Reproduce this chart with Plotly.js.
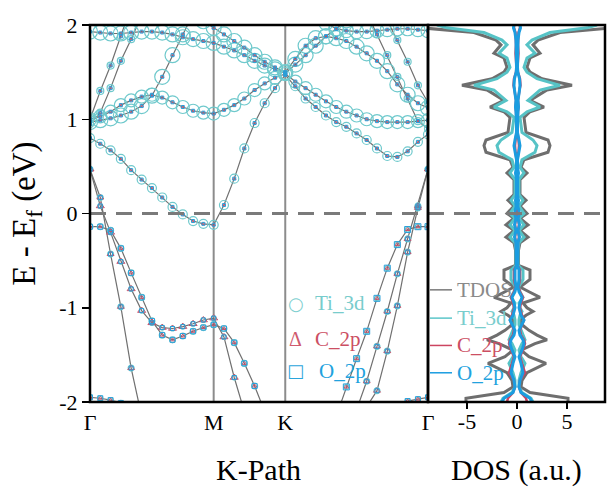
<!DOCTYPE html>
<html><head><meta charset="utf-8">
<script src="https://cdn.plot.ly/plotly-3.0.1.min.js"></script>
<style>html,body{margin:0;padding:0;background:#fff}#chart{width:608px;height:492px}</style>
</head><body><div id="chart"></div>
<script>
const N = null;
// k-path coordinates (Γ-M-K-Γ, hexagonal)
const kPath = [0.000,0.048,0.096,0.144,0.192,0.241,0.289,0.337,0.385,0.433,0.481,0.529,0.577,
               0.625,0.673,0.720,0.768,0.815,0.863,0.911,
               0.958,1.006,1.053,1.101,1.149,1.196,1.244,1.291,1.339,1.387,1.434,1.482,1.530,1.577];
const kTickVals = [0, 0.577, 0.911, 1.577];
const kTickText = ['Γ', 'M', 'K', 'Γ'];
const eTickVals = [-2, -1, 0, 1, 2];
const eTickText = ['-2', '-1', '0', '1', '2'];
const dosTickVals = [-5, 0, 5];
const dosTickText = ['-5', '0', '5'];

// band energies (eV) along kPath
const bandC1 = [0.80,0.74,0.67,0.58,0.46,0.36,0.27,0.17,0.07,-0.01,-0.08,-0.11,-0.12,
                0.09,0.37,0.69,0.96,1.17,1.33,1.47,
                1.35,1.22,1.13,1.04,0.97,0.92,0.85,0.78,0.69,0.61,0.60,0.66,0.76,0.84];
const bandC2 = [1.00,1.03,1.08,1.15,1.20,1.24,1.26,1.23,1.18,1.13,1.09,1.07,1.06,
                1.10,1.15,1.22,1.31,1.38,1.44,1.48,
                1.40,1.33,1.26,1.19,1.13,1.08,1.04,1.00,0.98,0.97,0.97,0.97,0.98,0.99];
const bandC3 = [0.97,0.99,1.01,1.04,1.08,1.14,1.25,1.45,1.68,1.90,2.12,N,N,
                N,N,N,N,N,N,N,
                N,N,N,N,N,N,N,N,N,N,N,N,N,N];
const bandT1 = [1.93,1.92,1.91,1.91,1.92,1.93,1.93,1.92,1.90,1.87,1.85,1.83,1.81,
                1.77,1.73,1.68,1.62,1.57,1.53,1.49,
                1.58,1.68,1.78,1.88,1.96,2.05,N,N,N,N,N,N,N,N];
const bandT2 = [N,N,N,N,N,N,N,N,N,N,2.12,2.04,1.97,
                1.90,1.83,1.76,1.68,1.61,1.55,1.50,
                1.64,1.78,1.86,1.88,1.86,1.83,1.77,1.70,1.62,1.51,1.37,1.26,1.17,1.12];
const bandT3 = [N,N,N,N,N,N,N,N,N,N,N,N,N,
                N,N,N,N,N,N,N,
                N,N,N,2.02,1.96,1.94,1.93,1.93,1.94,1.95,1.96,1.96,1.95,1.94];
const bandS1 = [1.00,1.30,1.57,1.88,2.20,N,N,N,N,N,N,N,N,
                N,N,N,N,N,N,N,
                N,N,N,N,N,N,N,N,N,N,N,N,N,N];
const bandS2 = [0.95,1.07,1.33,1.62,1.85,2.10,N,N,N,N,N,N,N,
                N,N,N,N,N,N,N,
                N,N,N,N,N,N,N,N,N,N,N,N,N,N];
const bandS3 = [N,N,N,N,N,N,N,N,N,N,N,N,N,
                N,N,N,N,N,N,N,
                N,N,N,N,N,N,N,2.13,1.90,1.68,1.45,1.22,0.98,0.90];
const bandS4 = [N,N,N,N,N,N,N,N,N,N,N,N,N,
                N,N,N,N,N,N,N,
                N,N,N,N,N,N,N,N,N,2.05,1.84,1.61,1.36,1.18];
const bandV1 = [0.47,0.17,-0.43,-0.99,-1.64,-2.15,N,N,N,N,N,N,N,
                N,N,N,N,N,N,N,
                N,N,N,N,N,N,N,N,N,N,N,N,N,N];
const bandV2 = [0.47,0.08,-0.20,-0.51,-0.80,-1.03,-1.16,-1.21,-1.22,-1.20,-1.17,-1.13,-1.11,
                -1.31,-1.74,-2.10,N,N,N,N,
                N,N,N,N,N,N,N,N,N,N,N,N,N,N];
const bandV3 = [-0.14,-0.14,-0.18,-0.37,-0.63,-0.89,-1.14,-1.29,-1.34,-1.30,-1.25,-1.21,-1.18,
                -1.22,-1.37,-1.59,-1.83,-2.10,N,N,
                N,N,N,N,N,N,N,N,N,N,N,N,N,N];
const bandV4 = [-1.95,-1.96,-1.98,-2.01,-2.05,N,N,N,N,N,N,N,N,
                N,N,N,N,N,N,N,
                N,N,N,N,N,N,N,N,N,N,-2.03,-1.99,-1.97,-1.95];
const bandR1 = [N,N,N,N,N,N,N,N,N,N,N,N,N,
                N,N,N,N,N,N,N,
                N,N,N,N,-2.15,-1.84,-1.54,-1.25,-0.90,-0.58,-0.33,-0.17,-0.14,-0.14];
const bandR2 = [N,N,N,N,N,N,N,N,N,N,N,N,N,
                N,N,N,N,N,N,N,
                N,N,N,N,N,N,-2.08,-1.78,-1.41,-1.04,-0.64,-0.27,0.08,0.47];
const bandR3 = [N,N,N,N,N,N,N,N,N,N,N,N,N,
                N,N,N,N,N,N,N,
                N,N,N,N,N,N,N,-2.05,-1.88,-1.46,-0.98,-0.41,0.06,0.47];

// density of states (a.u.), mirrored for the two spin channels
const dosE = [-2.0,-1.96,-1.9,-1.84,-1.77,-1.69,-1.59,-1.52,-1.45,-1.38,
              -1.34,-1.29,-1.24,-1.18,-1.13,-1.08,-1.04,-1.0,-0.95,-0.89,
              -0.83,-0.78,-0.7,-0.6,-0.55,-0.45,-0.39,-0.31,-0.25,-0.18,
              -0.12,-0.05,0.0,0.08,0.14,0.2,0.3,0.36,0.43,0.49,
              0.57,0.65,0.72,0.78,0.86,0.95,1.02,1.08,1.13,1.2,
              1.31,1.36,1.43,1.5,1.55,1.65,1.7,1.79,1.84,1.92,
              1.97,2.0];
const dosTotal = [5.1,5.1,1.3,0.4,0.5,1.0,2.9,1.2,0.4,1.8,
                  3.0,2.0,1.2,0.5,0.3,0.9,1.6,1.0,0.6,2.3,
                  1.2,0.3,1.3,1.3,0.15,0.15,0.15,0.3,1.1,0.3,
                  1.1,0.3,1.0,0.3,0.9,0.3,0.3,0.3,1.0,0.4,
                  0.7,3.1,3.3,3.1,0.9,0.8,0.7,1.3,2.7,1.3,
                  3.0,5.5,2.5,1.3,1.0,1.3,2.3,1.6,2.1,4.3,
                  9.5,9.5];
const dosTi3d = [1.6,1.4,0.5,0.2,0.2,0.4,0.8,0.4,0.2,0.5,
                 0.8,0.6,0.4,0.2,0.2,0.3,0.5,0.3,0.2,0.6,
                 0.3,0.15,0.6,0.6,0.1,0.1,0.1,0.2,0.7,0.2,
                 0.7,0.2,0.7,0.2,0.6,0.2,0.2,0.2,0.7,0.3,
                 0.5,1.8,2.0,1.6,0.5,0.4,0.3,1.0,2.3,1.1,
                 2.3,4.3,2.0,1.0,0.7,1.0,1.8,1.0,1.5,3.3,
                 7.0,8.0];
const dosC2p = [1.0,0.9,0.4,0.2,0.3,0.8,0.5,0.3,0.6,0.8,
                0.7,0.4,0.3,0.5,0.7,0.5,0.4,0.3,0.4,0.6,
                0.3,0.15,0.3,0.3,0.05,0.05,0.05,0.1,0.2,0.1,
                0.2,0.1,0.15,0.05,0.1,0.05,0.05,0.05,0.1,0.05,
                0.05,0.15,0.2,0.15,0.05,0.05,0.05,0.1,0.15,0.1,
                0.25,0.35,0.3,0.1,0.05,0.1,0.15,0.1,0.1,0.15,
                0.3,0.3];
const dosO2p = [1.5,1.3,0.4,0.2,0.3,0.6,0.4,0.2,0.5,0.7,
                0.6,0.3,0.2,0.5,0.7,0.4,0.3,0.2,0.3,0.5,
                0.2,0.1,0.2,0.2,0.05,0.05,0.05,0.1,0.25,0.1,
                0.25,0.1,0.25,0.08,0.15,0.05,0.05,0.05,0.15,0.05,
                0.05,0.2,0.3,0.2,0.05,0.05,0.05,0.1,0.15,0.1,
                0.25,0.3,0.25,0.08,0.05,0.08,0.1,0.08,0.1,0.2,
                0.35,0.3];

const legendBand = ['Ti_3d', 'C_2p', 'O_2p'];
const legendDos = ['TDOS', 'Ti_3d', 'C_2p', 'O_2p'];

// ---------- styling ----------
const SERIF = 'Liberation Serif, Times New Roman, serif';
const colTi = '#6fc9cc', colC = '#c9506a', colO = '#2a9fd8', colLine = '#707070';
// [band, circle size, triangle size, square size]
const bandStyle = [
  [bandC1, 9, 3, 3], [bandC2, 13, 3, 3], [bandC3, 15, 3, 3],
  [bandT1, 15, 3, 3], [bandT2, 15, 3, 3], [bandT3, 14, 3, 3],
  [bandS1, 7, 3, 3], [bandS2, 7, 3, 3], [bandS3, 7, 3, 3], [bandS4, 7, 3, 3],
  [bandV1, 6, 6, 4], [bandV2, 5, 7, 4], [bandV3, 6, 4, 5], [bandV4, 5, 4, 5],
  [bandR1, 5, 4, 6], [bandR2, 6, 6, 4], [bandR3, 6, 6, 4]
];

const traces = [];
bandStyle.forEach(([b]) => traces.push({x: kPath, y: b, mode: 'lines', xaxis: 'x', yaxis: 'y',
  line: {color: colLine, width: 1.2}, hoverinfo: 'skip', showlegend: false}));
bandStyle.forEach(([b, sc]) => traces.push({x: kPath, y: b, mode: 'markers', xaxis: 'x', yaxis: 'y',
  marker: {symbol: 'circle-open', size: sc, color: colTi, line: {color: colTi, width: 1.2}}, showlegend: false}));
bandStyle.forEach(([b, sc, st]) => traces.push({x: kPath, y: b, mode: 'markers', xaxis: 'x', yaxis: 'y',
  marker: {symbol: 'triangle-up-open', size: st, color: colC, line: {color: colC, width: 1}}, showlegend: false}));
bandStyle.forEach(([b, sc, st, ss]) => traces.push({x: kPath, y: b, mode: 'markers', xaxis: 'x', yaxis: 'y',
  marker: {symbol: 'square-open', size: ss, color: colO, line: {color: colO, width: 1}}, showlegend: false}));

const dosSets = [[dosTotal, '#6e6e6e', 3], [dosTi3d, '#56c3c6', 3], [dosC2p, '#cc4560', 2.5], [dosO2p, '#1b9de0', 3]];
dosSets.forEach(([d, c, w]) => {
  traces.push({x: d, y: dosE, mode: 'lines', xaxis: 'x2', yaxis: 'y', line: {color: c, width: w}, showlegend: false});
  traces.push({x: d.map(v => -v), y: dosE, mode: 'lines', xaxis: 'x2', yaxis: 'y', line: {color: c, width: w}, showlegend: false});
});

const split = 0.6563;
const shapes = [
  {type: 'line', xref: 'x', yref: 'paper', x0: kTickVals[1], x1: kTickVals[1], y0: 0, y1: 1, line: {color: '#8c8c8c', width: 2}, layer: 'below'},
  {type: 'line', xref: 'x', yref: 'paper', x0: kTickVals[2], x1: kTickVals[2], y0: 0, y1: 1, line: {color: '#8c8c8c', width: 2}, layer: 'below'},
  {type: 'line', xref: 'paper', yref: 'y', x0: 0, x1: 1, y0: 0, y1: 0, line: {color: '#7a7a7a', width: 3, dash: '16px,10px'}, layer: 'above'},
  {type: 'rect', xref: 'paper', yref: 'paper', x0: 0, x1: split, y0: 0, y1: 1, line: {color: '#000', width: 2.5}, layer: 'above'},
  {type: 'rect', xref: 'paper', yref: 'paper', x0: split, x1: 1, y0: 0, y1: 1, line: {color: '#000', width: 2.5}, layer: 'above'}
];
const dosLegCol = ['#7a7a7a', '#5cc6c9', '#cc4560', '#1b9de0'];
const dosLegTxt = ['#8a8a8a', '#79cdcd', '#cc4f63', '#22a2de'];
const dosLegY = [-0.81, -1.11, -1.40, -1.69];
const annotations = [];
legendDos.forEach((t, i) => {
  shapes.push({type: 'line', xref: 'x2', yref: 'y', x0: -8.7, x1: -6.5, y0: dosLegY[i], y1: dosLegY[i], line: {color: dosLegCol[i], width: 1.5}});
  annotations.push({xref: 'x2', yref: 'y', x: -6.2, y: dosLegY[i], text: t, showarrow: false, xanchor: 'left', yanchor: 'middle',
    font: {family: SERIF, size: 21, color: dosLegTxt[i]}});
});
const bandLegSym = ['○', 'Δ', '□'];
const bandLegSymCol = ['#7fcfd0', '#d05a6e', '#2aa5dc'];
const bandLegTxt = ['#78cccc', '#cc4f63', '#21a2de'];
const bandLegY = [-0.95, -1.33, -1.67];
legendBand.forEach((t, i) => {
  annotations.push({xref: 'x', yref: 'y', x: 0.961, y: bandLegY[i], text: bandLegSym[i], showarrow: false, xanchor: 'center', yanchor: 'middle',
    font: {family: i === 1 ? SERIF : 'DejaVu Sans', size: i === 1 ? 20 : 18, color: bandLegSymCol[i]}});
  annotations.push({xref: 'x', yref: 'y', x: i === 2 ? 1.06 : 1.041, y: bandLegY[i], text: t, showarrow: false, xanchor: 'left', yanchor: 'middle',
    font: {family: SERIF, size: 21, color: bandLegTxt[i]}});
});
annotations.push({xref: 'paper', yref: 'paper', x: 0.328, y: -0.18, text: 'K-Path', showarrow: false, xanchor: 'center', yanchor: 'middle',
  font: {family: SERIF, size: 30, color: '#000'}});
annotations.push({xref: 'paper', yref: 'paper', x: 0.829, y: -0.18, text: 'DOS (a.u.)', showarrow: false, xanchor: 'center', yanchor: 'middle',
  font: {family: SERIF, size: 30, color: '#000'}});
annotations.push({xref: 'paper', yref: 'paper', x: -0.124, y: 0.5, text: 'E - E<sub>f</sub> (eV)', textangle: -90, showarrow: false, xanchor: 'center', yanchor: 'middle',
  font: {family: SERIF, size: 33, color: '#000'}});

const layout = {
  width: 608, height: 492,
  margin: {l: 90, r: 3, t: 25, b: 90},
  paper_bgcolor: '#fff', plot_bgcolor: '#fff',
  showlegend: false,
  xaxis: {domain: [0, split], range: [0, kPath[kPath.length - 1]], anchor: 'y', tickvals: kTickVals, ticktext: kTickText,
    ticks: '', ticklabelstandoff: 5, showgrid: false, zeroline: false, showline: false, tickfont: {family: SERIF, size: 22, color: '#000'}},
  xaxis2: {domain: [split, 1], range: [-8.9, 8.8], anchor: 'y', tickvals: dosTickVals, ticktext: dosTickText,
    ticks: 'outside', ticklen: 6, tickwidth: 1.5, tickcolor: '#000', ticklabelstandoff: -6, showgrid: false, zeroline: false, showline: false,
    tickfont: {family: SERIF, size: 22, color: '#000'}},
  yaxis: {range: [-2, 2], anchor: 'x', tickvals: eTickVals, ticktext: eTickText, ticks: 'outside', ticklen: 7, tickwidth: 1.5,
    tickcolor: '#000', showgrid: false, zeroline: false, showline: false, tickfont: {family: SERIF, size: 22, color: '#000'}},
  shapes: shapes,
  annotations: annotations
};
Plotly.newPlot('chart', traces, layout, {staticPlot: true, displayModeBar: false});
</script></body></html>
